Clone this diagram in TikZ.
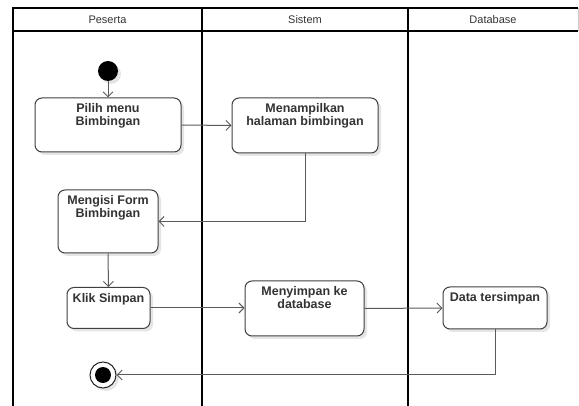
\documentclass[tikz,border=0pt]{standalone}
\usepackage{fontspec}
\setmainfont{Liberation Sans}
\usetikzlibrary{arrows.meta,shadows}
\definecolor{edgegray}{HTML}{5A5A5A}
\definecolor{boxborder}{HTML}{404040}
\tikzset{
  x=1pt, y=-1pt,
  lane/.style={line width=1.4pt, draw=black},
  actbox/.style={draw=boxborder, line width=1pt, rounded corners=7pt, fill=white,
    drop shadow={shadow xshift=3pt, shadow yshift=-3pt, fill=black, opacity=0.10},
    inner sep=0pt},
  acttext/.style={anchor=north, align=center, inner sep=0pt, font=\fontsize{12.5}{13}\selectfont\bfseries, text=black!80},
  hdr/.style={font=\fontsize{11}{12}\selectfont, text=black!80, inner sep=0pt},
  flow/.style={draw=edgegray, line width=1pt, -{Straight Barb[length=5pt,width=10pt,line width=0.9pt]}},
}
\begin{document}
\begin{tikzpicture}
\useasboundingbox (0,0) rectangle (579,406);
% swimlanes
\draw[lane] (13,406) -- (13,8) -- (578,8);
\draw[lane] (13,31) -- (578,31);
\draw[lane] (202,8) -- (202,406);
\draw[lane] (408,8) -- (408,406);
\draw[line width=0.6pt, draw=black!20] (578,8) -- (578,31);
\node[hdr] (h1) at (107.5,19.5) {Peserta};
\node[hdr] (h2) at (305,19.5) {Sistem};
\node[hdr] (h3) at (493,19.5) {Database};

% initial node
\node[circle, fill=black, minimum size=20pt, inner sep=0pt,
  drop shadow={shadow xshift=3pt, shadow yshift=-3pt, fill=black, opacity=0.10}] (init) at (108,71) {};

% activities
\node[actbox, minimum width=146pt, minimum height=54pt] (pilih) at (108,125) {};
\node[actbox, minimum width=146pt, minimum height=55pt] (tampil) at (305,125.5) {};
\node[actbox, minimum width=100pt, minimum height=63pt] (isi) at (108,221.5) {};
\node[actbox, minimum width=83pt, minimum height=41pt] (klik) at (108.5,308) {};
\node[actbox, minimum width=119pt, minimum height=55pt] (simpan) at (304.5,308.5) {};
\node[actbox, minimum width=104pt, minimum height=42pt] (data) at (495,308) {};

% final node
\node[circle, draw=black!85, line width=1pt, fill=white, minimum size=26pt, inner sep=0pt,
  drop shadow={shadow xshift=3pt, shadow yshift=-3pt, fill=black, opacity=0.10}] (final) at (103,375) {};
\node[circle, fill=black, minimum size=16pt, inner sep=0pt] (finalIn) at (final.center) {};

% flows
\draw[flow] (init) -- (pilih);
\draw[flow] (pilih.east) -- (tampil.west);
\draw[flow] (tampil.south) |- (isi.east);
\draw[flow] (isi.south) -- (klik.north);
\draw[flow] (klik.east) -- (klik.east -| simpan.west);
\draw[flow] (simpan.east) -- (data.west);
\draw[flow] (data.south) |- (final.east);

% texts
\node[acttext] (pilihT) at ([yshift=-6pt]pilih.north) {Pilih menu\\Bimbingan};
\node[acttext] (tampilT) at ([yshift=-6pt]tampil.north) {Menampilkan\\halaman bimbingan};
\node[acttext] (isiT) at ([yshift=-6pt]isi.north) {Mengisi Form\\Bimbingan};
\node[acttext] (klikT) at ([yshift=-6pt]klik.north) {Klik Simpan};
\node[acttext] (simpanT) at ([yshift=-6pt]simpan.north) {Menyimpan ke\\database};
\node[acttext] (dataT) at ([yshift=-6pt]data.north) {Data tersimpan};
\end{tikzpicture}
\end{document}
